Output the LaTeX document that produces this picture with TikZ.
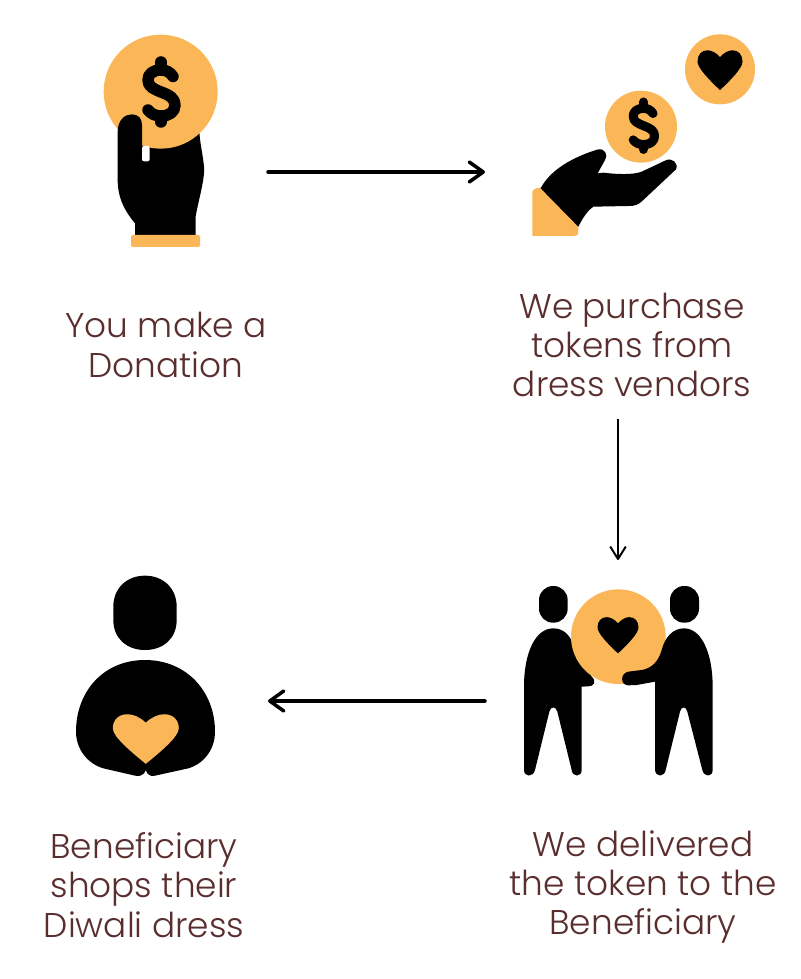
\documentclass[tikz,border=0pt]{standalone}
\usepackage{fontspec}
\setmainfont{Poppins Light}
\usetikzlibrary{arrows.meta}
\definecolor{coin}{HTML}{FBB757}
\definecolor{ink}{HTML}{5A2E2E}
\tikzset{
  anchorbox/.style={inner sep=0pt,outer sep=0pt},
  caption/.style={anchorbox,align=center,text=ink,font=\fontsize{34.3}{39.4}\selectfont},
  flow/.style={line width=3.5pt,-{Straight Barb[length=14pt,width=20pt,line width=3.5pt,round]},line cap=round},
  flowthin/.style={line width=2pt,-{Straight Barb[length=12pt,width=15pt,line width=2pt,round]}},
  icon/.style={fill=black,draw=none},
  zoomed/.style={scale=1/3}
}
\newcommand{\dollarmark}[3]{% x, y, scale
  \begin{scope}[shift={(#1,#2)},scale=#3]
    \draw[line width=#3*11.5pt,line cap=round,line join=round]
      (12,-15.5) .. controls (9,-20) and (5,-22) .. (0,-22)
      .. controls (-8,-22) and (-13,-18) .. (-13,-12)
      .. controls (-13,-5) and (-7,-3) .. (0,0)
      .. controls (8,3) and (14,6) .. (14,13)
      .. controls (14,20) and (8,24) .. (0,24)
      .. controls (-5,24) and (-10,22) .. (-13,18);
    \draw[line width=#3*11.5pt,line cap=round] (0,-22) -- (0,-30);
    \draw[line width=#3*11.5pt,line cap=round] (0,24) -- (0,30);
  \end{scope}}
\newcommand{\heartmark}[5]{% x, y, half-width, y-scale, colour
  \fill[#5,shift={(#1,#2)},x=#3pt,y=-#4pt]
    (0,-0.62) .. controls (0.18,-0.82) and (0.38,-0.92) .. (0.56,-0.92)
    .. controls (0.82,-0.92) and (1,-0.72) .. (1,-0.42)
    .. controls (1,-0.12) and (0.45,0.42) .. (0,0.85)
    .. controls (-0.45,0.42) and (-1,-0.12) .. (-1,-0.42)
    .. controls (-1,-0.72) and (-0.82,-0.92) .. (-0.56,-0.92)
    .. controls (-0.38,-0.92) and (-0.18,-0.82) .. (0,-0.62) -- cycle;}
\begin{document}
\begin{tikzpicture}[x=1pt,y=-1pt]
\useasboundingbox (0,0) rectangle (800,979);
\fill[white] (0,0) rectangle (800,979);

% --- hand giving a coin
\begin{scope}[shift={(80,20)},zoomed]
  \fill[icon] (190,330) -- (113,480)
    .. controls (113,540) and (140,580) .. (165,610) -- (165,648) -- (347,648) -- (347,590)
    .. controls (355,540) and (375,480) .. (372,440)
    .. controls (368,400) and (360,370) .. (358,335) -- cycle;
  \fill[coin] (242,215) circle[radius=171];
  \fill[icon] (113,480) -- (113,335)
    .. controls (113,300) and (135,283) .. (155,283)
    .. controls (175,283) and (186,295) .. (186,315)
    -- (186,400) -- (186,480) -- cycle;
  \fill[white,rounded corners=2pt] (186,378) rectangle (209,424);
  \fill[coin,rounded corners=2pt] (153,645) rectangle (360,681);
\end{scope}
\dollarmark{161}{92}{1}

% --- open hand with coins
\begin{scope}[shift={(510,20)},zoomed]
  \fill[coin] (393,320) circle[radius=108];
  \fill[coin] (630,148) circle[radius=105];
  \fill[coin] (67,515) .. controls (70,507) and (80,503) .. (92,503) -- (205,618) -- (205,635)
    .. controls (205,645) and (200,648) .. (192,648) -- (67,648) -- cycle;
  \fill[icon] (92,505) .. controls (120,450) and (190,410) .. (265,388)
    .. controls (285,385) and (295,405) .. (285,420) -- (263,460) -- (280,458)
    .. controls (320,463) and (370,465) .. (395,455)
    -- (465,422) .. controls (485,410) and (507,430) .. (498,448)
    -- (400,540) .. controls (385,555) and (375,558) .. (355,558)
    -- (250,560) .. controls (235,570) and (220,590) .. (205,620) -- cycle;
\end{scope}
\dollarmark{643.5}{125.7}{0.79}
\heartmark{720}{71}{22.5}{22.5}{black}

% --- two people and a coin
\begin{scope}[shift={(510,570)},zoomed]
  \fill[icon,rounded corners=14pt] (87,48) rectangle (173,158);
  \fill[icon,rounded corners=14pt] (480,48) rectangle (567,158);
  \fill[icon] (130,175) .. controls (160,175) and (180,195) .. (190,225) -- (245,320)
    .. controls (262,335) and (250,350) .. (235,349) -- (215,350) -- (215,600)
    .. controls (215,622) and (187,622) .. (185,600) -- (142,425)
    .. controls (138,408) and (122,408) .. (118,425) -- (75,600)
    .. controls (70,622) and (42,622) .. (42,600) -- (42,350)
    .. controls (42,250) and (75,175) .. (130,175) -- cycle;
  \fill[coin] (325,200) circle[radius=142];
  \fill[icon] (522,175) .. controls (490,175) and (465,200) .. (455,240)
    .. controls (445,275) and (425,295) .. (395,300) -- (355,305)
    .. controls (330,310) and (330,345) .. (355,346) -- (380,345) -- (435,335) -- (435,600)
    .. controls (437,622) and (463,622) .. (467,600) -- (510,425)
    .. controls (514,408) and (528,408) .. (532,425) -- (577,600)
    .. controls (582,622) and (608,622) .. (608,600) -- (608,350)
    .. controls (608,250) and (575,175) .. (522,175) -- cycle;
\end{scope}
\heartmark{618}{636}{20.5}{20.5}{black}

% --- person holding a heart
\begin{scope}[shift={(60,565)},zoomed]
  \fill[icon] (255,32) .. controls (310,32) and (350,70) .. (350,125) -- (350,165)
    .. controls (350,220) and (310,255) .. (255,255)
    .. controls (200,255) and (160,220) .. (160,165) -- (160,125)
    .. controls (160,70) and (200,32) .. (255,32) -- cycle;
  \fill[icon] (255,285) .. controls (130,285) and (48,380) .. (48,500)
    .. controls (48,550) and (80,595) .. (130,610) -- (225,632)
    .. controls (250,637) and (262,620) .. (257,600)
    .. controls (253,620) and (265,637) .. (285,632) -- (385,610)
    .. controls (435,595) and (465,550) .. (465,500)
    .. controls (465,380) and (380,285) .. (255,285) -- cycle;
\end{scope}
\heartmark{145.8}{740}{33}{28}{coin}

% --- layout nodes for the icons (invisible frames the arrows attach to)
\node[anchorbox,minimum width=204pt,minimum height=20pt] (donate) at (166,172) {};
\node[anchorbox,minimum width=266pt,minimum height=20pt] (purchase) at (618,172) {};
\node[anchorbox,minimum width=266pt,minimum height=282pt] (deliver) at (618,701) {};
\node[anchorbox,minimum width=252pt,minimum height=20pt] (shop) at (142,701) {};

% --- captions
\node[caption] (t1) at (166,345) {You make a\\Donation};
\node[caption,minimum height=148pt] (t2) at (632,345) {We purchase\\tokens from\\dress vendors};
\node[caption] (t3) at (643,887) {We delivered\\the token to the\\Beneficiary};
\node[caption] (t4) at (144,885) {Beneficiary\\shops their\\Diwali dress};

% --- arrows
\coordinate (t2out) at (t2.south -| deliver.north);
\draw[flow] (donate.east) -- (purchase.west);
\draw[flowthin] (t2out) -- (deliver.north);
\draw[flow] (deliver.west) -- (shop.east);
\end{tikzpicture}
\end{document}
